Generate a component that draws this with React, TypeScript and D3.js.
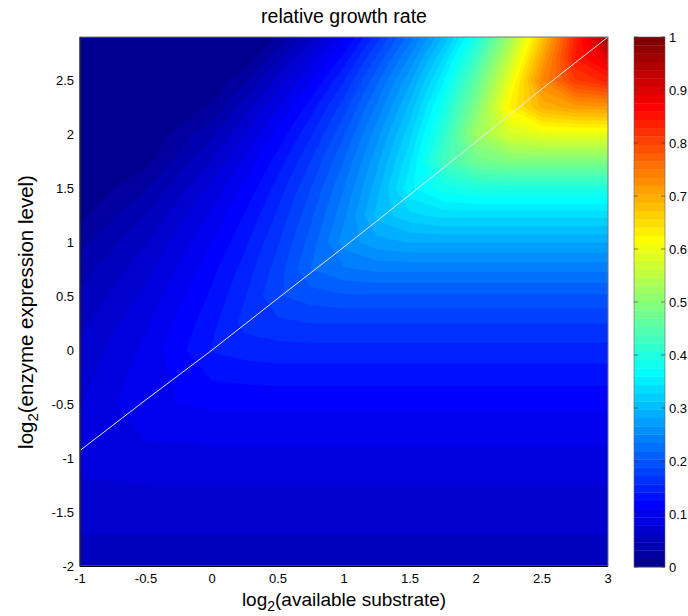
import React, { useRef, useEffect } from "react";
import * as d3 from "d3";

// log2(available substrate), grid columns
const substrate = [-1, -0.5, 0, 0.25, 0.5, 0.75, 1, 1.25, 1.5, 1.75, 2, 2.25, 2.5, 2.75, 3];
// log2(enzyme expression level), grid rows (bottom to top)
const enzyme = [-2, -1.5, -1, -0.5, 0, 0.25, 0.5, 0.75, 1, 1.25, 1.5, 1.75, 2, 2.25, 2.5, 2.7, 2.9];

// relative growth rate, one row per enzyme level
const growth = [
  [0.055, 0.055, 0.055, 0.055, 0.055, 0.055, 0.055, 0.055, 0.055, 0.055, 0.055, 0.055, 0.055, 0.055, 0.055],
  [0.068, 0.068, 0.068, 0.068, 0.068, 0.068, 0.068, 0.068, 0.068, 0.068, 0.068, 0.068, 0.068, 0.068, 0.068],
  [0.084, 0.088, 0.088, 0.088, 0.088, 0.088, 0.088, 0.088, 0.088, 0.088, 0.088, 0.088, 0.088, 0.088, 0.088],
  [0.077, 0.107, 0.112, 0.112, 0.112, 0.112, 0.112, 0.112, 0.112, 0.112, 0.112, 0.112, 0.112, 0.112, 0.112],
  [0.066, 0.098, 0.142, 0.147, 0.15, 0.15, 0.15, 0.15, 0.15, 0.15, 0.15, 0.15, 0.15, 0.15, 0.15],
  [0.058, 0.091, 0.136, 0.162, 0.168, 0.172, 0.172, 0.172, 0.172, 0.172, 0.172, 0.172, 0.172, 0.172, 0.172],
  [0.049, 0.082, 0.128, 0.155, 0.186, 0.195, 0.2, 0.2, 0.2, 0.2, 0.2, 0.2, 0.2, 0.2, 0.2],
  [0.039, 0.072, 0.12, 0.147, 0.179, 0.219, 0.232, 0.238, 0.238, 0.238, 0.238, 0.238, 0.238, 0.238, 0.238],
  [0.026, 0.061, 0.109, 0.137, 0.17, 0.21, 0.257, 0.275, 0.282, 0.282, 0.282, 0.282, 0.282, 0.282, 0.282],
  [0.011, 0.047, 0.097, 0.126, 0.159, 0.199, 0.246, 0.302, 0.324, 0.333, 0.333, 0.333, 0.333, 0.333, 0.333],
  [0, 0.03, 0.082, 0.113, 0.147, 0.187, 0.234, 0.29, 0.356, 0.383, 0.395, 0.395, 0.395, 0.395, 0.395],
  [0, 0.01, 0.064, 0.097, 0.132, 0.172, 0.219, 0.276, 0.341, 0.429, 0.475, 0.49, 0.49, 0.49, 0.49],
  [0, 0, 0.043, 0.077, 0.114, 0.154, 0.201, 0.259, 0.323, 0.408, 0.52, 0.576, 0.594, 0.595, 0.595],
  [0, 0, 0.018, 0.055, 0.093, 0.133, 0.18, 0.238, 0.302, 0.384, 0.491, 0.626, 0.691, 0.711, 0.715],
  [0, 0, 0, 0.028, 0.067, 0.107, 0.155, 0.214, 0.277, 0.355, 0.457, 0.59, 0.734, 0.81, 0.835],
  [0, 0, 0, 0.002, 0.044, 0.084, 0.131, 0.191, 0.253, 0.328, 0.425, 0.556, 0.705, 0.843, 0.891],
  [0, 0, 0, 0, 0.017, 0.057, 0.104, 0.165, 0.226, 0.297, 0.388, 0.518, 0.671, 0.83, 0.98],
];

// white line across the map
const lineSubstrate = [-1, -0.5, 0, 0.5, 1, 1.5, 2, 2.5, 3];
const lineEnzyme = [-0.93, -0.46, 0.0, 0.48, 0.955, 1.44, 1.93, 2.42, 2.9];

const xTicks = [-1, -0.5, 0, 0.5, 1, 1.5, 2, 2.5, 3];
const yTicks = [-2, -1.5, -1, -0.5, 0, 0.5, 1, 1.5, 2, 2.5];
const cbTicks = [0, 0.1, 0.2, 0.3, 0.4, 0.5, 0.6, 0.7, 0.8, 0.9, 1];

const FONT = "'Liberation Sans', Arial, Helvetica, sans-serif";

const App = () => {
  const ref = useRef<SVGSVGElement>(null);

  useEffect(() => {
    const svg = d3.select(ref.current);
    svg.selectAll("*").remove();

    const x = d3.scaleLinear().domain([-1, 3]).range([80, 608]);
    const y = d3.scaleLinear().domain([-2, 2.9]).range([566, 37]);

    // MATLAB jet(64)
    const jet = d3
      .scaleLinear<string>()
      .domain([0, 7, 23, 39, 55, 63])
      .range(["rgb(0,0,143)", "rgb(0,0,255)", "rgb(0,255,255)", "rgb(255,255,0)", "rgb(255,0,0)", "rgb(128,0,0)"]);
    const nColors = 64;
    const levels = d3.range(nColors).map((k) => k / nColors);

    const nx = substrate.length;
    const ny = enzyme.length;
    // grid index -> data coordinate (samples sit at i + 0.5)
    const gx = d3.scaleLinear().domain(substrate.map((_, i) => i + 0.5)).range(substrate).clamp(true);
    const gy = d3.scaleLinear().domain(enzyme.map((_, j) => j + 0.5)).range(enzyme).clamp(true);

    const contours = d3.contours().size([nx, ny]).thresholds(levels)(growth.flat());
    const path = d3.geoPath(
      d3.geoTransform({
        point(px, py) {
          this.stream.point(x(gx(px)), y(gy(py)));
        },
      })
    );

    svg
      .append("defs")
      .append("clipPath")
      .attr("id", "plotclip")
      .append("rect")
      .attr("x", 80)
      .attr("y", 37)
      .attr("width", 528)
      .attr("height", 529);

    const plot = svg.append("g").attr("clip-path", "url(#plotclip)");
    plot
      .selectAll("path.band")
      .data(contours)
      .join("path")
      .attr("class", "band")
      .attr("d", path)
      .attr("fill", (d, i) => jet(i))
      .attr("stroke", (d, i) => jet(i))
      .attr("stroke-width", 0.5);

    const line = d3
      .line<number>()
      .x((d) => x(d))
      .y((d, i) => y(lineEnzyme[i]));
    plot
      .append("path")
      .attr("d", line(lineSubstrate))
      .attr("fill", "none")
      .attr("stroke", "#e6e6f2")
      .attr("stroke-width", 1);

    // frame
    svg
      .append("rect")
      .attr("x", 80)
      .attr("y", 37)
      .attr("width", 528)
      .attr("height", 529)
      .attr("fill", "none")
      .attr("stroke", "#777")
      .attr("stroke-width", 1);
    svg.append("line").attr("x1", 80).attr("x2", 80).attr("y1", 37).attr("y2", 566.5).attr("stroke", "#000");
    svg.append("line").attr("x1", 80).attr("x2", 608).attr("y1", 566.5).attr("y2", 566.5).attr("stroke", "#000");

    // tick labels
    svg
      .selectAll("text.xt")
      .data(xTicks)
      .join("text")
      .attr("class", "xt")
      .attr("x", (d) => x(d))
      .attr("y", 583)
      .attr("text-anchor", "middle")
      .attr("font-family", FONT)
      .attr("font-size", 13)
      .text((d) => String(d));
    svg
      .selectAll("text.yt")
      .data(yTicks)
      .join("text")
      .attr("class", "yt")
      .attr("x", 74)
      .attr("y", (d) => y(d))
      .attr("dy", "0.36em")
      .attr("text-anchor", "end")
      .attr("font-family", FONT)
      .attr("font-size", 13)
      .text((d) => String(d));

    // colorbar
    const cb = d3.scaleLinear().domain([0, 1]).range([567, 37]);
    const cbx = 634;
    const cbw = 31;
    svg
      .selectAll("rect.cb")
      .data(levels)
      .join("rect")
      .attr("class", "cb")
      .attr("x", cbx)
      .attr("width", cbw)
      .attr("y", (d) => cb(d + 1 / nColors))
      .attr("height", cb(0) - cb(1 / nColors) + 0.3)
      .attr("fill", (d, i) => jet(i));
    svg
      .append("rect")
      .attr("x", cbx)
      .attr("y", 37)
      .attr("width", cbw)
      .attr("height", 530)
      .attr("fill", "none")
      .attr("stroke", "#666")
      .attr("stroke-width", 0.6);
    svg
      .selectAll("path.cbtick")
      .data(cbTicks)
      .join("path")
      .attr("class", "cbtick")
      .attr("d", (d) => `M${cbx},${cb(d)}h4M${cbx + cbw},${cb(d)}h-4`)
      .attr("stroke", "#333")
      .attr("stroke-opacity", 0.6);
    svg
      .selectAll("text.cbt")
      .data(cbTicks)
      .join("text")
      .attr("class", "cbt")
      .attr("x", 669)
      .attr("y", (d) => cb(d))
      .attr("dy", "0.36em")
      .attr("font-family", FONT)
      .attr("font-size", 13)
      .text((d) => String(d));

    // title and axis labels
    svg
      .append("text")
      .attr("x", 344)
      .attr("y", 23)
      .attr("text-anchor", "middle")
      .attr("font-family", FONT)
      .attr("font-size", 19.5)
      .text("relative growth rate");

    const xl = svg
      .append("text")
      .attr("x", 344)
      .attr("y", 606)
      .attr("text-anchor", "middle")
      .attr("font-family", FONT)
      .attr("font-size", 19);
    xl.append("tspan").text("log");
    xl.append("tspan").attr("font-size", 14).attr("dy", 5).text("2");
    xl.append("tspan").attr("dy", -5).text("(available substrate)");

    const yl = svg
      .append("text")
      .attr("transform", "translate(33,312) rotate(-90)")
      .attr("text-anchor", "middle")
      .attr("font-family", FONT)
      .attr("font-size", 20.5);
    yl.append("tspan").text("log");
    yl.append("tspan").attr("font-size", 15).attr("dy", 5).text("2");
    yl.append("tspan").attr("dy", -5).text("(enzyme expression level)");
  }, []);

  return (
    <svg
      ref={ref}
      width={688}
      height={616}
      style={{ position: "absolute", left: 0, top: 0, display: "block" }}
    />
  );
};

export default App;
